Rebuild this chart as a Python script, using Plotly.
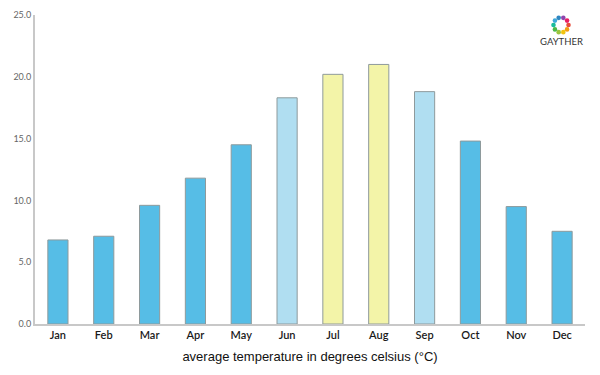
import math
import plotly.graph_objects as go

months = ["Jan", "Feb", "Mar", "Apr", "May", "Jun", "Jul", "Aug", "Sep", "Oct", "Nov", "Dec"]
temps = [6.8, 7.1, 9.6, 11.8, 14.5, 18.3, 20.2, 21.0, 18.8, 14.8, 9.5, 7.5]
colors = ["#56BDE6", "#56BDE6", "#56BDE6", "#56BDE6", "#56BDE6", "#B0DEF1",
          "#F3F4A8", "#F3F4A8", "#B0DEF1", "#56BDE6", "#56BDE6", "#56BDE6"]
y_ticks = [0, 5, 10, 15, 20, 25]

fig = go.Figure()
fig.add_trace(go.Bar(
    x=months, y=temps, width=0.44,
    marker=dict(color=colors, line=dict(color="#8E9A9C", width=1)),
))

fig.update_layout(
    width=584, height=359,
    margin=dict(l=27, r=7, t=7, b=43, autoexpand=False),
    plot_bgcolor="white", paper_bgcolor="white",
    showlegend=False,
    xaxis=dict(
        showline=True, linecolor="#C8C8C8", linewidth=2,
        showgrid=False, ticks="", automargin=False,
        tickfont=dict(family="Lato, DejaVu Sans", size=11, color="#1A1A1A", weight=600),
        title=dict(text="average temperature in degrees celsius (°C)",
                   font=dict(family="Liberation Sans, Arial", size=13, color="#111111"),
                   standoff=12),
    ),
    yaxis=dict(
        range=[0, 25], tickvals=y_ticks, tickformat=".1f",
        showline=True, linecolor="#C8C8C8", linewidth=2,
        showgrid=False, zeroline=False, ticks="", automargin=False,
        tickfont=dict(family="Lato, DejaVu Sans", size=9, color="#666666"),
    ),
)

# logo
fig.add_annotation(xref="paper", yref="paper", x=(561 - 35) / 550, y=(324 - 42) / 309,
                   xanchor="center", yanchor="middle",
                   text="GAYTHER", showarrow=False,
                   font=dict(family="Lato, DejaVu Sans", size=9.5, color="#333333"))
logo_cols = ["#E74C3C", "#F39C12", "#F1C40F", "#9BC53D", "#4CB848", "#1ABC9C",
             "#3FA9D9", "#2E86C1", "#8E44AD", "#E91E63"]
cx, cy, rr = 561, 25, 7.5
for i, c in enumerate(logo_cols):
    a = 2 * math.pi * i / len(logo_cols)
    px, py = cx + rr * math.cos(a), cy + rr * math.sin(a)
    fig.add_shape(type="circle", xref="paper", yref="paper",
                  x0=(px - 35 - 2.3) / 550, x1=(px - 35 + 2.3) / 550,
                  y0=(324 - py - 2.3) / 309, y1=(324 - py + 2.3) / 309,
                  fillcolor=c, line=dict(width=0))

fig.write_html("out.html")
